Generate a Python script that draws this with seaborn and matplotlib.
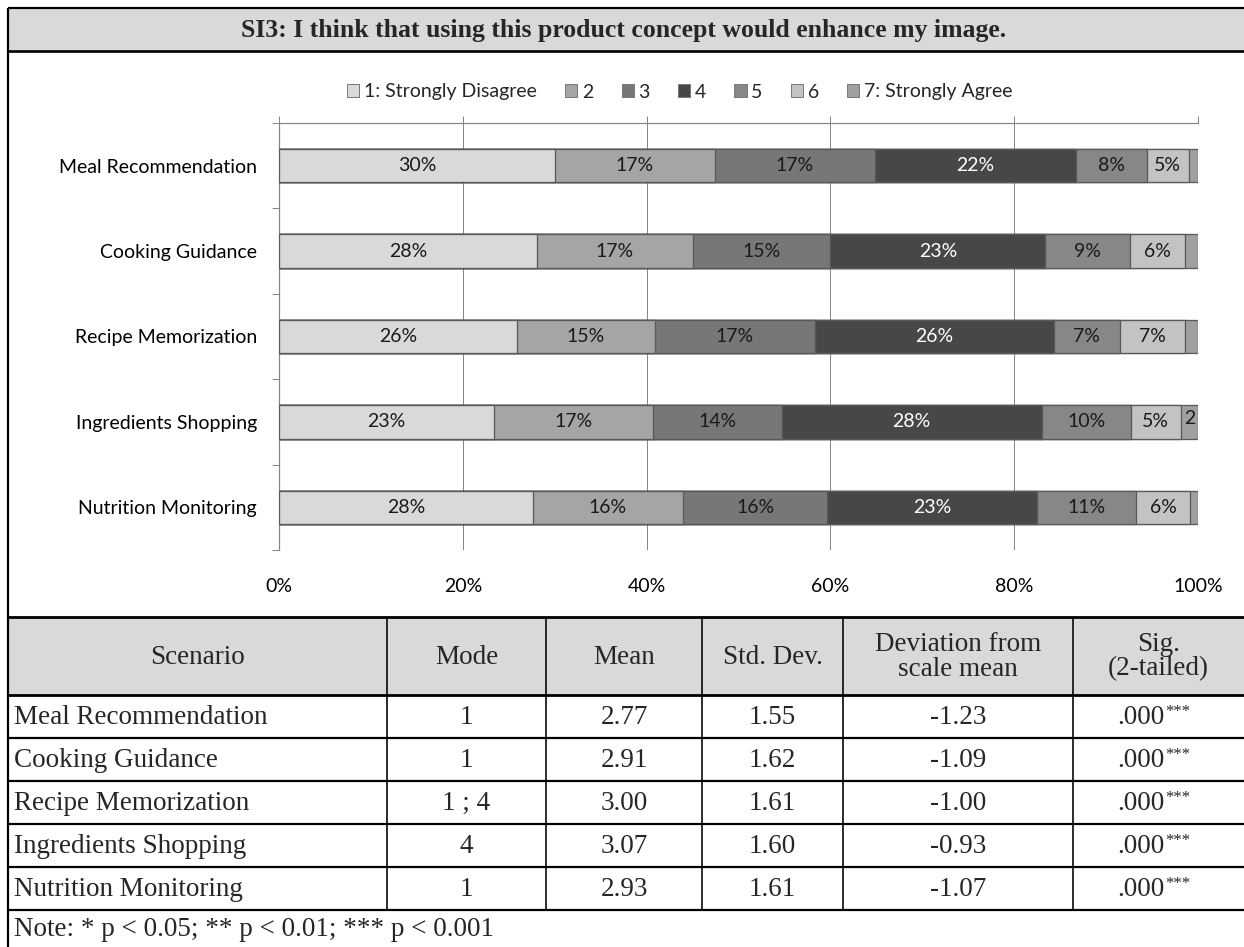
import numpy as np
import pandas as pd
import matplotlib
matplotlib.use("Agg")
import matplotlib.pyplot as plt
from matplotlib.patches import Patch, Rectangle
from matplotlib.transforms import Bbox, TransformedBbox
import seaborn as sns

# ---- data -----------------------------------------------------------------
scenarios = ["Meal Recommendation", "Cooking Guidance", "Recipe Memorization",
             "Ingredients Shopping", "Nutrition Monitoring"]
levels = ["1: Strongly Disagree", "2", "3", "4", "5", "6", "7: Strongly Agree"]

# share of answers (%) per scale point, one value per scenario
share_1 = [30.0, 28.1, 25.9, 23.4, 27.6]
share_2 = [17.4, 16.9, 15.0, 17.3, 16.4]
share_3 = [17.4, 15.0, 17.4, 14.0, 15.6]
share_4 = [21.9, 23.4, 26.0, 28.3, 22.9]
share_5 = [7.7, 9.2, 7.2, 9.7, 10.8]
share_6 = [4.6, 6.0, 7.1, 5.4, 5.8]
share_7 = [1.0, 1.4, 1.4, 1.9, 0.9]

x_ticks = [0, 20, 40, 60, 80, 100]
x_tick_labels = ["0%", "20%", "40%", "60%", "80%", "100%"]

title = "SI3: I think that using this product concept would enhance my image."

table_header = ["Scenario", "Mode", "Mean", "Std. Dev.",
                "Deviation from\nscale mean", "Sig.\n(2-tailed)"]
modes = ["1", "1", "1 ; 4", "4", "1"]
means = ["2.77", "2.91", "3.00", "3.07", "2.93"]
std_devs = ["1.55", "1.62", "1.61", "1.60", "1.61"]
deviations = ["-1.23", "-1.09", "-1.00", "-0.93", "-1.07"]
sig_values = [".000", ".000", ".000", ".000", ".000"]
sig_stars = ["***", "***", "***", "***", "***"]
note = "Note: * p < 0.05; ** p < 0.01; *** p < 0.001"

# ---- style ----------------------------------------------------------------
W, H = 1244, 947
sns.set_theme(style="white")
plt.rcParams["font.family"] = ["Lato", "DejaVu Sans"]

fill_colors = ["#d9d9d9", "#a5a5a5", "#777777", "#474747",
               "#878787", "#c3c3c3", "#a0a0a0"]
edge_color = "#595959"
axis_color = "#868686"
band_color = "#d9d9d9"
serif = ["Liberation Serif", "DejaVu Serif"]
PX = 0.72  # points per pixel at dpi 100
chart_fs = 14
table_fs = 19.5

fig = plt.figure(figsize=(W / 100, H / 100), dpi=100)

# pixel-space canvas for the frame, title band and statistics table
bg = fig.add_axes([0, 0, 1, 1], zorder=0)
bg.set_xlim(0, W)
bg.set_ylim(H, 0)
bg.axis("off")

# ---- stacked bars -----------------------------------------------------------
series = [share_1, share_2, share_3, share_4, share_5, share_6, share_7]
cum = np.cumsum(np.array(series), axis=0)
rows = []
for i, lvl in enumerate(levels):
    for j, sc in enumerate(scenarios):
        rows.append({"scenario": sc, "level": lvl,
                     "share": series[i][j], "right": cum[i, j]})
df = pd.DataFrame(rows)

ax_l, ax_r, ax_t, ax_b = 279, 1198, 123, 550
ax = fig.add_axes([ax_l / W, 1 - ax_b / H, (ax_r - ax_l) / W, (ax_b - ax_t) / H],
                  zorder=2)
ax.patch.set_alpha(0)

bar_h = 0.39
# each level is drawn as a bar to its cumulative end, outermost first
for i in reversed(range(len(levels))):
    sub = df[df["level"] == levels[i]]
    sns.barplot(data=sub, x="right", y="scenario", order=scenarios, orient="h",
                color=fill_colors[i], saturation=1, width=bar_h,
                edgecolor=edge_color, linewidth=1.3 * PX, ax=ax, zorder=3)

ax.set_xlim(0, 100)
ax.set_ylim(len(scenarios) - 0.5, -0.5)

for _, r in df.iterrows():
    i = levels.index(r["level"])
    j = scenarios.index(r["scenario"])
    if r["share"] < 1.5:
        continue
    left = r["right"] - r["share"]
    xc = left + r["share"] / 2
    if r["share"] < 3:
        # too narrow: the label wraps and only its first line fits the bar
        t = ax.annotate(f"{r['share']:.0f}\n%", xy=(xc, j), xytext=(0, 8.6),
                        textcoords="offset points", ha="center", va="top",
                        fontsize=chart_fs, color="#1a1a1a", zorder=5,
                        linespacing=2.4)
    else:
        t = ax.text(xc, j, f"{r['share']:.0f}%", ha="center", va="center",
                    fontsize=chart_fs, zorder=5,
                    color="white" if i == 3 else "#1a1a1a")
    box = Bbox([[left, j - bar_h / 2], [r["right"], j + bar_h / 2]])
    t.set_clip_box(TransformedBbox(box, ax.transData))
    t.set_clip_on(True)

ax.set_xlabel("")
ax.set_ylabel("")
ax.set_xticks(x_ticks)
ax.set_xticklabels(x_tick_labels, fontsize=chart_fs, color="black")
ax.tick_params(axis="x", which="major", top=True, bottom=False,
               labeltop=False, labelbottom=True, direction="out",
               length=7 * PX, width=1 * PX, color=axis_color, pad=15)
ax.set_yticks(range(len(scenarios)))
ax.set_yticklabels(scenarios, fontsize=chart_fs, color="black")
ax.set_yticks(np.arange(-0.5, len(scenarios), 1.0), minor=True)
ax.tick_params(axis="y", which="major", length=0, pad=16)
ax.tick_params(axis="y", which="minor", left=True, length=7 * PX,
               width=1 * PX, color=axis_color)
ax.grid(axis="x", color=axis_color, linewidth=1 * PX, zorder=1)
ax.grid(axis="y", visible=False)
ax.set_axisbelow(True)
for side in ("right", "bottom"):
    ax.spines[side].set_visible(False)
for side in ("top", "left"):
    ax.spines[side].set_visible(True)
    ax.spines[side].set_color(axis_color)
    ax.spines[side].set_linewidth(1.2 * PX)

handles = [Patch(facecolor=c, edgecolor="#7a7a7a", linewidth=1 * PX)
           for c in fill_colors]
fig.legend(handles, levels, loc="center",
           bbox_to_anchor=(680 / W, 1 - 92 / H),
           ncol=len(levels), frameon=False, fontsize=chart_fs,
           handlelength=0.62, handleheight=0.62, handletextpad=0.25,
           columnspacing=1.45, borderaxespad=0, borderpad=0)

# ---- frame and title band ---------------------------------------------------
bg.add_patch(Rectangle((8, 8), W - 8, 43, facecolor=band_color,
                       edgecolor="none", zorder=0))
bg.text(624, 30, title, ha="center", va="center", fontsize=18.5,
        fontweight="bold", family=serif)
lw_frame = 2.2 * PX
bg.plot([8, 8], [8, H], color="black", lw=lw_frame, solid_capstyle="butt")
bg.plot([8, W], [8, 8], color="black", lw=lw_frame, solid_capstyle="butt")
bg.plot([8, W], [51, 51], color="black", lw=lw_frame * 1.2, solid_capstyle="butt")

# ---- statistics table -------------------------------------------------------
col_edges = [8, 387, 546, 702, 843, 1073, W]
head_top, head_bot = 617, 695
row_h = 43
bg.add_patch(Rectangle((8, head_top), W - 8, head_bot - head_top,
                       facecolor=band_color, edgecolor="none", zorder=0))
table_bottom = head_bot + row_h * len(scenarios)
bg.plot([8, W], [head_top, head_top], color="black", lw=2.8 * PX,
        solid_capstyle="butt")
bg.plot([8, W], [head_bot, head_bot], color="black", lw=2.8 * PX,
        solid_capstyle="butt")
for k in range(1, len(scenarios) + 1):
    yk = head_bot + row_h * k
    bg.plot([8, W], [yk, yk], color="black", lw=2.2 * PX, solid_capstyle="butt")
for xe in col_edges[1:-1]:
    bg.plot([xe, xe], [head_top, table_bottom], color="black", lw=1.6 * PX,
            solid_capstyle="butt")

centers = [(col_edges[c] + col_edges[c + 1]) / 2 for c in range(len(col_edges) - 1)]
for c, lab in enumerate(table_header):
    bg.text(centers[c], (head_top + head_bot) / 2 + 1, lab, ha="center",
            va="center", fontsize=table_fs, family=serif, linespacing=0.95)

for j, sc in enumerate(scenarios):
    yc = head_bot + row_h * j + row_h / 2 + 1
    bg.text(14, yc, sc, ha="left", va="center", fontsize=table_fs, family=serif)
    for c, val in zip(range(1, 5), (modes[j], means[j], std_devs[j], deviations[j])):
        bg.text(centers[c], yc, val, ha="center", va="center",
                fontsize=table_fs, family=serif)
    sig = bg.text(centers[5] - 18, yc, sig_values[j], ha="center", va="center",
                  fontsize=table_fs, family=serif)
    bg.annotate(sig_stars[j], xy=(1, 1), xycoords=sig, xytext=(0.5, 1),
                textcoords="offset points", ha="left", va="top",
                fontsize=12, family=serif)

bg.text(14, (table_bottom + H) / 2 + 1, note, ha="left", va="center",
        fontsize=table_fs, family=serif)

fig.savefig("out.png", dpi=100)
